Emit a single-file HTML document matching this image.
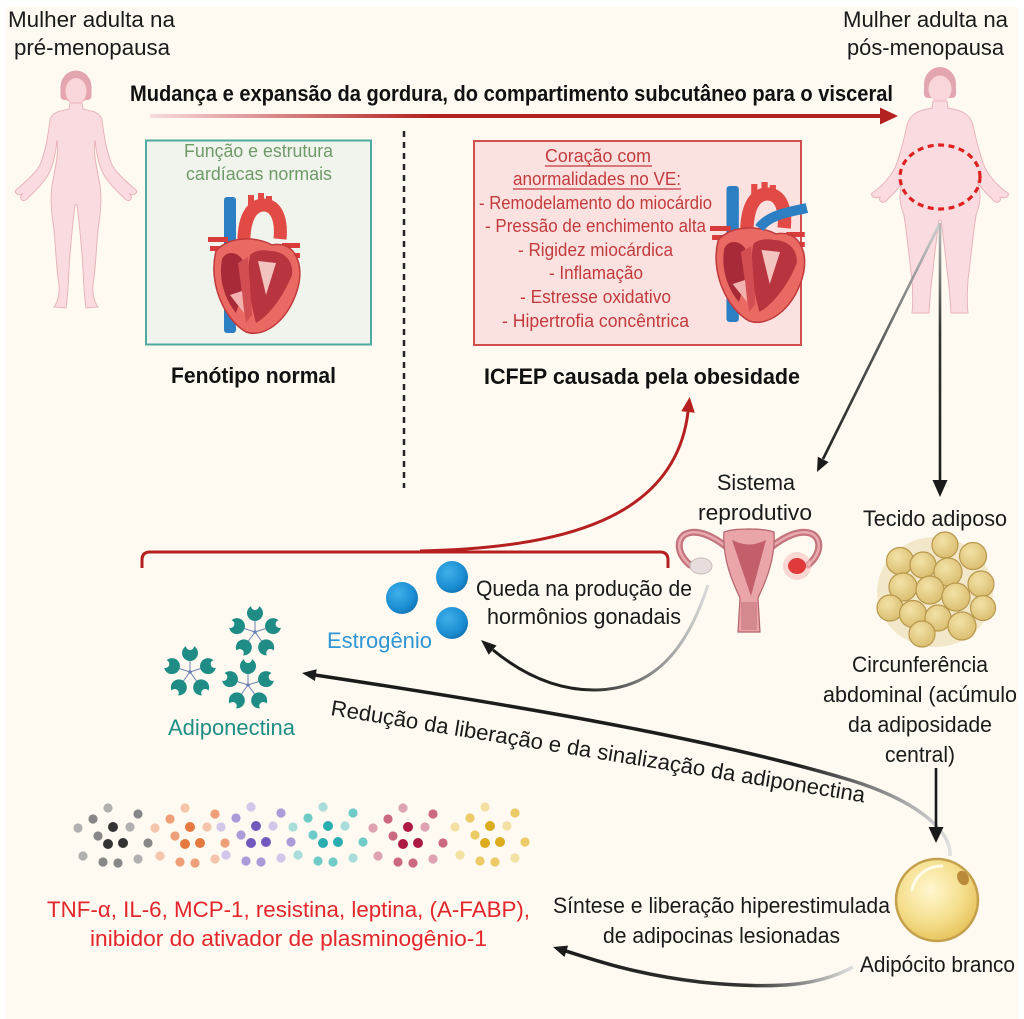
<!DOCTYPE html>
<html><head><meta charset="utf-8">
<style>
html,body{margin:0;padding:0;background:#fff;}
svg{display:block;}
text{font-family:"Liberation Sans Narrow","Liberation Sans",Arial,sans-serif;}
.t{font-size:22px;fill:#1a1a1a;}
.b{font-size:22px;font-weight:bold;fill:#111;}
.r{font-size:18px;fill:#c23a3c;}
.c0 .l{fill:#b0b0b0}.c0 .m{fill:#878787}.c0 .d{fill:#333}
.c1 .l{fill:#f4c5ab}.c1 .m{fill:#ef9f77}.c1 .d{fill:#e6793f}
.c2 .l{fill:#d2c6ea}.c2 .m{fill:#ab9bd8}.c2 .d{fill:#7359bd}
.c3 .l{fill:#a9ddd9}.c3 .m{fill:#6fcbc8}.c3 .d{fill:#2aadb0}
.c4 .l{fill:#dea3b1}.c4 .m{fill:#cb6981}.c4 .d{fill:#ad1a43}
.c5 .l{fill:#f3e0a3}.c5 .m{fill:#ecca67}.c5 .d{fill:#dcab1e}
</style></head>
<body>
<svg width="1024" height="1019" viewBox="0 0 1024 1019" xmlns="http://www.w3.org/2000/svg">
<defs>
<linearGradient id="gTitle" gradientUnits="userSpaceOnUse" x1="150" y1="0" x2="430" y2="0"><stop offset="0" stop-color="#f6dcdc"/><stop offset="1" stop-color="#b42121"/></linearGradient>
<linearGradient id="gDiag" gradientUnits="userSpaceOnUse" x1="940" y1="223" x2="817" y2="472"><stop offset="0" stop-color="#d0d0d0"/><stop offset="0.5" stop-color="#555"/><stop offset="1" stop-color="#1a1a1a"/></linearGradient>
<linearGradient id="gVert" gradientUnits="userSpaceOnUse" x1="0" y1="223" x2="0" y2="493"><stop offset="0" stop-color="#bdbdbd"/><stop offset="0.4" stop-color="#333"/><stop offset="1" stop-color="#1a1a1a"/></linearGradient>
<linearGradient id="gLong" gradientUnits="userSpaceOnUse" x1="302" y1="0" x2="952" y2="0"><stop offset="0" stop-color="#1a1a1a"/><stop offset="0.76" stop-color="#1e1e1e"/><stop offset="1" stop-color="#e2e2e2"/></linearGradient>
<linearGradient id="gEst" gradientUnits="userSpaceOnUse" x1="708" y1="0" x2="482" y2="0"><stop offset="0" stop-color="#dadada"/><stop offset="0.3" stop-color="#777"/><stop offset="0.55" stop-color="#222"/><stop offset="1" stop-color="#1a1a1a"/></linearGradient>
<linearGradient id="gSyn" gradientUnits="userSpaceOnUse" x1="855" y1="0" x2="553" y2="0"><stop offset="0" stop-color="#e2e2e2"/><stop offset="0.35" stop-color="#333"/><stop offset="1" stop-color="#1a1a1a"/></linearGradient>
<radialGradient id="gCell" cx="0.42" cy="0.38" r="0.65"><stop offset="0" stop-color="#fff7cf"/><stop offset="0.6" stop-color="#f5df8e"/><stop offset="1" stop-color="#e6c25a"/></radialGradient>
<radialGradient id="gBall" cx="0.38" cy="0.35" r="0.7"><stop offset="0" stop-color="#3fb0ea"/><stop offset="0.7" stop-color="#1b8ed3"/><stop offset="1" stop-color="#1173b3"/></radialGradient>
<radialGradient id="gFat" cx="0.4" cy="0.35" r="0.7"><stop offset="0" stop-color="#f3e2a6"/><stop offset="1" stop-color="#d9bc6e"/></radialGradient>
<g id="heart">
<rect x="16" y="2" width="12" height="136" rx="3" fill="#2c7fc3"/>
<path d="M36,58 C34,22 44,10 56,10 C68,10 74,24 72,44" fill="none" stroke="#e24a45" stroke-width="13"/>
<rect x="40" y="0" width="6" height="18" fill="#e24a45"/>
<rect x="50" y="-2" width="6" height="16" fill="#e24a45"/>
<rect x="58" y="1" width="6" height="16" fill="#e24a45"/>
<rect x="0" y="42" width="20" height="5" fill="#d93a3a"/>
<rect x="2" y="51" width="18" height="5" fill="#d93a3a"/>
<rect x="74" y="48" width="18" height="5" fill="#d93a3a"/>
<rect x="76" y="58" width="16" height="5" fill="#d93a3a"/>
<path d="M8,56 C0,88 16,124 38,137 C58,144 84,122 91,88 C95,64 84,46 64,50 C50,42 22,40 8,56Z" fill="#ea6a63" stroke="#c03a3c" stroke-width="1.5"/>
<path d="M14,64 C10,86 18,106 28,118 C34,100 38,82 34,64 C28,56 18,56 14,64Z" fill="#a82a38"/>
<path d="M42,60 C38,82 42,106 48,128 C62,120 76,100 84,80 C86,66 76,56 62,56 C54,54 46,56 42,60Z" fill="#b8343f"/>
<path d="M30,68 L40,62 L44,120 L38,128 Z" fill="#d24e52"/>
<path d="M50,66 L58,100 L68,68 Z" fill="#f3c3c0"/>
<path d="M22,100 L36,118 L34,96Z" fill="#f2b0ae"/>
</g>
<g id="arm">
<line x1="0" y1="0" x2="0" y2="-13" stroke="#6a80b2" stroke-width="1"/>
<path d="M-4,-25.9 A8 8 0 1 0 4,-25.9 A4 4 0 0 1 -4,-25.9Z" fill="#1f8c85"/>
</g>
<g id="adipo">
<use href="#arm" transform="rotate(0)"/>
<use href="#arm" transform="rotate(72)"/>
<use href="#arm" transform="rotate(144)"/>
<use href="#arm" transform="rotate(216)"/>
<use href="#arm" transform="rotate(288)"/>
<circle r="1.8" fill="#6a80b2"/>
</g>
</defs>

<rect x="0" y="0" width="1024" height="1019" fill="#ffffff"/>
<rect x="5" y="7" width="1013" height="1012" fill="#fefaf1"/>

<!-- top labels -->
<text class="t" x="8" y="27" textLength="167" lengthAdjust="spacingAndGlyphs">Mulher adulta na</text>
<text class="t" x="14" y="55" textLength="156" lengthAdjust="spacingAndGlyphs">pré-menopausa</text>
<text class="t" x="843" y="27" textLength="165" lengthAdjust="spacingAndGlyphs">Mulher adulta na</text>
<text class="t" x="847" y="55" textLength="157" lengthAdjust="spacingAndGlyphs">pós-menopausa</text>

<!-- left woman -->
<g>
<ellipse cx="76" cy="87" rx="15.5" ry="16.5" fill="#e4a6ae"/>
<rect x="60.5" y="86" width="31" height="14" rx="4" fill="#e4a6ae"/>
<ellipse cx="76" cy="91" rx="10.5" ry="13" fill="#f8d6da"/>
<path d="M70,103 L82,103 L83,109 C92,111 100,112 102,120 C104,135 106,150 112,165 C118,175 128,183 136,190 C138,193 134,196 130,194 C134,200 128,203 124,198 C118,192 110,185 104,175 C98,165 96,150 95,140 C93,150 96,165 99,180 C102,195 101,210 98,230 C96,250 96,265 93,285 C92,295 95,303 98,307 L86,308 C84,295 84,285 83,270 C82,250 80,230 77,205 L75,205 C72,230 70,250 69,270 C68,285 68,295 66,308 L54,307 C57,303 60,295 59,285 C56,265 56,250 54,230 C51,210 50,195 53,180 C56,165 59,150 57,140 C56,150 54,165 48,175 C42,185 34,192 28,198 C24,203 18,200 22,194 C18,196 14,193 16,190 C24,183 34,175 40,165 C46,150 48,135 50,120 C52,112 60,111 69,109 Z" fill="#fadce0" stroke="#e6b4bb" stroke-width="1"/>
</g>

<!-- right woman -->
<g>
<ellipse cx="940" cy="84" rx="16" ry="17" fill="#e4a6ae"/>
<rect x="924" y="84" width="32" height="14" rx="4" fill="#e4a6ae"/>
<ellipse cx="940" cy="89" rx="11.5" ry="13.5" fill="#f8d6da"/>
<path d="M933,101 L947,101 L948,108 C960,110 970,113 973,125 C976,140 980,155 985,168 C992,180 1000,188 1008,193 C1010,197 1004,199 1000,197 C1002,203 995,204 992,199 C985,192 978,185 977,180 C982,195 980,205 976,215 C973,235 971,255 968,280 C967,295 967,305 968,313 L951,313 C950,300 950,290 947,270 C945,250 943,235 941,220 L939,220 C937,235 935,250 933,270 C930,290 930,300 929,313 L912,313 C913,305 913,295 912,280 C909,255 907,235 904,215 C900,205 898,195 903,180 C902,185 895,192 888,199 C885,204 878,203 880,197 C876,199 870,197 872,193 C880,188 888,180 895,168 C900,155 904,140 907,125 C910,113 920,110 932,108 Z" fill="#fadce0" stroke="#e6b4bb" stroke-width="1"/>
<ellipse cx="940" cy="177" rx="40" ry="32" fill="none" stroke="#e0201f" stroke-width="3.2" stroke-dasharray="6 4.5"/>
</g>

<!-- title + red arrow -->
<text class="b" x="130" y="101" textLength="763" lengthAdjust="spacingAndGlyphs">Mudança e expansão da gordura, do compartimento subcutâneo para o visceral</text>
<line x1="150" y1="116" x2="882" y2="116" stroke="url(#gTitle)" stroke-width="4"/>
<polygon points="898,116 880,107.5 880,124.5" fill="#b42121"/>

<!-- teal box -->
<rect x="146" y="140.5" width="225" height="204" fill="#f0f4ec" stroke="#4ea99f" stroke-width="2"/>
<text x="184" y="157" font-size="18" fill="#6e9a68" textLength="149" lengthAdjust="spacingAndGlyphs">Função e estrutura</text>
<text x="186" y="180" font-size="18" fill="#6e9a68" textLength="146" lengthAdjust="spacingAndGlyphs">cardíacas normais</text>
<use href="#heart" transform="translate(208,195)"/>
<text class="b" x="171" y="383" textLength="165" lengthAdjust="spacingAndGlyphs">Fenótipo normal</text>

<!-- dotted divider -->
<line x1="404" y1="131" x2="404" y2="488" stroke="#222" stroke-width="2.5" stroke-dasharray="6 5"/>

<!-- red box -->
<rect x="474" y="141" width="327" height="204" fill="#fbe2e1" stroke="#d0504b" stroke-width="2"/>
<text class="r" x="545" y="162" textLength="106" lengthAdjust="spacingAndGlyphs">Coração com</text>
<line x1="545" y1="166" x2="652" y2="166" stroke="#c23a3c" stroke-width="1.2"/>
<text class="r" x="513" y="185" textLength="168" lengthAdjust="spacingAndGlyphs">anormalidades no VE:</text>
<line x1="513" y1="189" x2="681" y2="189" stroke="#c23a3c" stroke-width="1.2"/>
<text class="r" x="479" y="209" textLength="233" lengthAdjust="spacingAndGlyphs">- Remodelamento do miocárdio</text>
<text class="r" x="485" y="232" textLength="221" lengthAdjust="spacingAndGlyphs">- Pressão de enchimento alta</text>
<text class="r" x="518" y="256" textLength="155" lengthAdjust="spacingAndGlyphs">- Rigidez miocárdica</text>
<text class="r" x="549" y="279" textLength="94" lengthAdjust="spacingAndGlyphs">- Inflamação</text>
<text class="r" x="520" y="303" textLength="151" lengthAdjust="spacingAndGlyphs">- Estresse oxidativo</text>
<text class="r" x="502" y="327" textLength="187" lengthAdjust="spacingAndGlyphs">- Hipertrofia concêntrica</text>
<g transform="translate(710,184) scale(1.03,1)">
<use href="#heart"/>
<path d="M48,44 C58,30 78,28 94,24" fill="none" stroke="#2c7fc3" stroke-width="10"/>
</g>
<text class="b" x="484" y="384" textLength="316" lengthAdjust="spacingAndGlyphs">ICFEP causada pela obesidade</text>

<!-- arrows from right woman -->
<line x1="940" y1="223" x2="823" y2="459" stroke="url(#gDiag)" stroke-width="2.6"/>
<polygon points="817,472 828.6,462.1 817.8,456.7" fill="#1a1a1a"/>
<line x1="940" y1="223" x2="940" y2="481" stroke="url(#gVert)" stroke-width="2.6"/>
<polygon points="940,497 932.5,480 947.5,480" fill="#1a1a1a"/>

<text class="t" x="717" y="490" textLength="78" lengthAdjust="spacingAndGlyphs">Sistema</text>
<text class="t" x="698" y="520" textLength="114" lengthAdjust="spacingAndGlyphs">reprodutivo</text>
<text class="t" x="863" y="526" textLength="144" lengthAdjust="spacingAndGlyphs">Tecido adiposo</text>

<!-- uterus -->
<g>
<path d="M728,548 C712,535 695,528 684,535 C676,542 678,555 690,565" fill="none" stroke="#c4747c" stroke-width="7" stroke-linecap="round"/>
<path d="M770,548 C786,535 803,528 814,535 C822,542 820,555 808,565" fill="none" stroke="#c4747c" stroke-width="7" stroke-linecap="round"/>
<path d="M728,548 C712,535 695,528 684,535 C676,542 678,555 690,565" fill="none" stroke="#e8aab0" stroke-width="2.5"/>
<path d="M770,548 C786,535 803,528 814,535 C822,542 820,555 808,565" fill="none" stroke="#e8aab0" stroke-width="2.5"/>
<circle cx="797" cy="566" r="14" fill="#f6c0c0" opacity="0.6"/>
<ellipse cx="701" cy="566" rx="11" ry="8" fill="#e7dddd" stroke="#c9bcbc"/>
<ellipse cx="797" cy="566" rx="9" ry="8" fill="#e03a3a"/>
<path d="M724,532 C735,528 762,528 774,532 C776,560 764,585 758,598 L760,632 L738,632 L740,598 C734,585 722,560 724,532 Z" fill="#e9a5aa" stroke="#b3636c" stroke-width="1.2"/>
<path d="M732,540 C745,546 753,546 766,540 L751,596 Z" fill="#c25f6b"/>
<rect x="741" y="602" width="16" height="28" fill="#d48890"/>
</g>

<!-- adipose tissue -->
<g transform="translate(0,4)">
<ellipse cx="935" cy="588" rx="58" ry="55" fill="#f2e8c9"/>
<g fill="url(#gFat)" stroke="#b8974a" stroke-width="1.2">
<circle cx="945" cy="541" r="13"/><circle cx="973" cy="552" r="13.5"/><circle cx="900" cy="557" r="13.5"/>
<circle cx="923" cy="561" r="13"/><circle cx="948" cy="568" r="14"/><circle cx="903" cy="583" r="14"/>
<circle cx="930" cy="586" r="14"/><circle cx="956" cy="593" r="14"/><circle cx="981" cy="580" r="13"/>
<circle cx="890" cy="604" r="13"/><circle cx="913" cy="610" r="13.5"/><circle cx="938" cy="614" r="13"/>
<circle cx="983" cy="604" r="12.5"/><circle cx="962" cy="622" r="14"/><circle cx="922" cy="630" r="13"/>
</g>
</g>

<text class="t" x="852" y="672" textLength="136" lengthAdjust="spacingAndGlyphs">Circunferência</text>
<text class="t" x="823" y="702" textLength="194" lengthAdjust="spacingAndGlyphs">abdominal (acúmulo</text>
<text class="t" x="848" y="732" textLength="144" lengthAdjust="spacingAndGlyphs">da adiposidade</text>
<text class="t" x="885" y="762" textLength="70" lengthAdjust="spacingAndGlyphs">central)</text>

<!-- red bracket and curve -->
<path d="M142,568 L142,560 Q142,552 150,552 L660,552 Q668,552 668,560 L668,568" fill="none" stroke="#b51f1f" stroke-width="3"/>
<path d="M420,551 C560,548 675,520 688,412" fill="none" stroke="#b51f1f" stroke-width="3"/>
<polygon points="689.7,397 694.8,412.8 681.2,411.2" fill="#b51f1f"/>

<!-- estrogen -->
<circle cx="402" cy="598" r="16" fill="url(#gBall)"/>
<circle cx="452" cy="577" r="16" fill="url(#gBall)"/>
<circle cx="452" cy="623" r="16" fill="url(#gBall)"/>
<text x="327" y="648" font-size="22" fill="#2f95d5" textLength="105" lengthAdjust="spacingAndGlyphs">Estrogênio</text>
<text class="t" x="476" y="596" textLength="216" lengthAdjust="spacingAndGlyphs">Queda na produção de</text>
<text class="t" x="487" y="624" textLength="194" lengthAdjust="spacingAndGlyphs">hormônios gonadais</text>
<path d="M708,585 C690,640 660,690 594,690 C550,690 515,668 493,650" fill="none" stroke="url(#gEst)" stroke-width="3"/>
<polygon points="481,640 496.5,645.5 488.7,654.7" fill="#1a1a1a"/>

<!-- adiponectin -->
<use href="#adipo" transform="translate(255,632)"/>
<use href="#adipo" transform="translate(190,672)"/>
<use href="#adipo" transform="translate(248,685)"/>
<text x="168" y="735" font-size="22" fill="#1f8f86" textLength="127" lengthAdjust="spacingAndGlyphs">Adiponectina</text>

<!-- long arrow -->
<path d="M315,675 C480,700 700,735 850,780 C915,800 952,830 950,856" fill="none" stroke="url(#gLong)" stroke-width="3.5"/>
<polygon points="302,673 314.9,681 316.7,669.2" fill="#1a1a1a"/>
<text class="t" transform="translate(330,715) rotate(9.3)" x="0" y="0" textLength="541" lengthAdjust="spacingAndGlyphs">Redução da liberação e da sinalização da adiponectina</text>

<!-- down arrow to adipocyte -->
<line x1="936" y1="768" x2="936" y2="828" stroke="#1a1a1a" stroke-width="2.6"/>
<polygon points="936,843 928.5,827 943.5,827" fill="#1a1a1a"/>

<!-- adipocyte -->
<circle cx="937" cy="900" r="41" fill="url(#gCell)" stroke="#c4a04c" stroke-width="2.5"/>
<path d="M912,890 C915,875 928,866 942,866" fill="none" stroke="#fffbe8" stroke-width="3" stroke-linecap="round"/>
<ellipse cx="963" cy="878" rx="5.5" ry="7.5" fill="#b98a3a" transform="rotate(-25 963 878)"/>
<text class="t" x="860" y="972" textLength="155" lengthAdjust="spacingAndGlyphs">Adipócito branco</text>

<!-- síntese -->
<text class="t" x="553" y="913" textLength="337" lengthAdjust="spacingAndGlyphs">Síntese e liberação hiperestimulada</text>
<text class="t" x="603" y="943" textLength="237" lengthAdjust="spacingAndGlyphs">de adipocinas lesionadas</text>
<path d="M853,967 C820,985 780,990 700,982 C640,975 600,962 566,951" fill="none" stroke="url(#gSyn)" stroke-width="3.5"/>
<polygon points="553,947 568.1,945.6 564.5,957" fill="#1a1a1a"/>

<!-- cytokine dots -->
<g class="c0" transform="translate(108,808)">
<circle cx="0" cy="0" r="4.6" class="l"/><circle cx="30" cy="6" r="4.6" class="m"/><circle cx="-15" cy="11" r="4.6" class="m"/><circle cx="5" cy="19" r="5" class="d"/><circle cx="22" cy="19" r="4.6" class="l"/><circle cx="-30" cy="20" r="4.6" class="l"/><circle cx="-10" cy="28" r="4.6" class="m"/><circle cx="0" cy="36" r="5" class="d"/><circle cx="15" cy="35" r="5" class="d"/><circle cx="40" cy="35" r="4.6" class="m"/><circle cx="-25" cy="48" r="4.6" class="l"/><circle cx="-5" cy="54" r="4.6" class="m"/><circle cx="10" cy="55" r="4.6" class="m"/><circle cx="30" cy="51" r="4.6" class="l"/>
</g>
<g class="c1" transform="translate(185,808)">
<circle cx="0" cy="0" r="4.6" class="l"/><circle cx="30" cy="6" r="4.6" class="m"/><circle cx="-15" cy="11" r="4.6" class="m"/><circle cx="5" cy="19" r="5" class="d"/><circle cx="22" cy="19" r="4.6" class="l"/><circle cx="-30" cy="20" r="4.6" class="l"/><circle cx="-10" cy="28" r="4.6" class="m"/><circle cx="0" cy="36" r="5" class="d"/><circle cx="15" cy="35" r="5" class="d"/><circle cx="40" cy="35" r="4.6" class="m"/><circle cx="-25" cy="48" r="4.6" class="l"/><circle cx="-5" cy="54" r="4.6" class="m"/><circle cx="10" cy="55" r="4.6" class="m"/><circle cx="30" cy="51" r="4.6" class="l"/>
</g>
<g class="c2" transform="translate(251,807)">
<circle cx="0" cy="0" r="4.6" class="l"/><circle cx="30" cy="6" r="4.6" class="m"/><circle cx="-15" cy="11" r="4.6" class="m"/><circle cx="5" cy="19" r="5" class="d"/><circle cx="22" cy="19" r="4.6" class="l"/><circle cx="-30" cy="20" r="4.6" class="l"/><circle cx="-10" cy="28" r="4.6" class="m"/><circle cx="0" cy="36" r="5" class="d"/><circle cx="15" cy="35" r="5" class="d"/><circle cx="40" cy="35" r="4.6" class="m"/><circle cx="-25" cy="48" r="4.6" class="l"/><circle cx="-5" cy="54" r="4.6" class="m"/><circle cx="10" cy="55" r="4.6" class="m"/><circle cx="30" cy="51" r="4.6" class="l"/>
</g>
<g class="c3" transform="translate(323,807)">
<circle cx="0" cy="0" r="4.6" class="l"/><circle cx="30" cy="6" r="4.6" class="m"/><circle cx="-15" cy="11" r="4.6" class="m"/><circle cx="5" cy="19" r="5" class="d"/><circle cx="22" cy="19" r="4.6" class="l"/><circle cx="-30" cy="20" r="4.6" class="l"/><circle cx="-10" cy="28" r="4.6" class="m"/><circle cx="0" cy="36" r="5" class="d"/><circle cx="15" cy="35" r="5" class="d"/><circle cx="40" cy="35" r="4.6" class="m"/><circle cx="-25" cy="48" r="4.6" class="l"/><circle cx="-5" cy="54" r="4.6" class="m"/><circle cx="10" cy="55" r="4.6" class="m"/><circle cx="30" cy="51" r="4.6" class="l"/>
</g>
<g class="c4" transform="translate(403,808)">
<circle cx="0" cy="0" r="4.6" class="l"/><circle cx="30" cy="6" r="4.6" class="m"/><circle cx="-15" cy="11" r="4.6" class="m"/><circle cx="5" cy="19" r="5" class="d"/><circle cx="22" cy="19" r="4.6" class="l"/><circle cx="-30" cy="20" r="4.6" class="l"/><circle cx="-10" cy="28" r="4.6" class="m"/><circle cx="0" cy="36" r="5" class="d"/><circle cx="15" cy="35" r="5" class="d"/><circle cx="40" cy="35" r="4.6" class="m"/><circle cx="-25" cy="48" r="4.6" class="l"/><circle cx="-5" cy="54" r="4.6" class="m"/><circle cx="10" cy="55" r="4.6" class="m"/><circle cx="30" cy="51" r="4.6" class="l"/>
</g>
<g class="c5" transform="translate(485,807)">
<circle cx="0" cy="0" r="4.6" class="l"/><circle cx="30" cy="6" r="4.6" class="m"/><circle cx="-15" cy="11" r="4.6" class="m"/><circle cx="5" cy="19" r="5" class="d"/><circle cx="22" cy="19" r="4.6" class="l"/><circle cx="-30" cy="20" r="4.6" class="l"/><circle cx="-10" cy="28" r="4.6" class="m"/><circle cx="0" cy="36" r="5" class="d"/><circle cx="15" cy="35" r="5" class="d"/><circle cx="40" cy="35" r="4.6" class="m"/><circle cx="-25" cy="48" r="4.6" class="l"/><circle cx="-5" cy="54" r="4.6" class="m"/><circle cx="10" cy="55" r="4.6" class="m"/><circle cx="30" cy="51" r="4.6" class="l"/>
</g>

<text x="47" y="917" font-size="22" fill="#e3262b" textLength="483" lengthAdjust="spacingAndGlyphs">TNF-α, IL-6, MCP-1, resistina, leptina, (A-FABP),</text>
<text x="90" y="946" font-size="22" fill="#e3262b" textLength="397" lengthAdjust="spacingAndGlyphs">inibidor do ativador de plasminogênio-1</text>
</svg>
</body></html>
